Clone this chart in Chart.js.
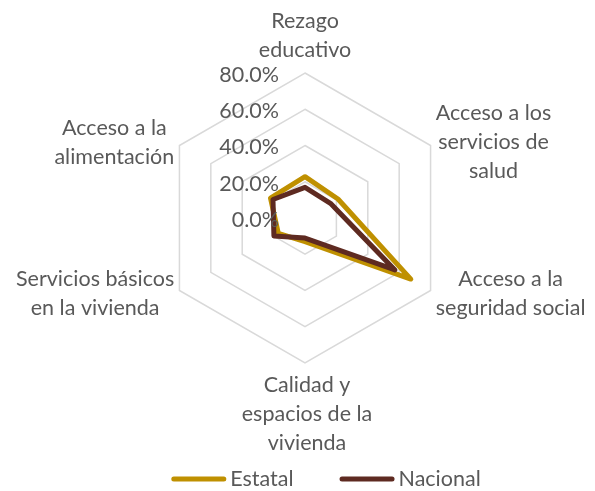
<!DOCTYPE html>
<html>
<head>
<meta charset="utf-8">
<script src="https://cdn.jsdelivr.net/npm/chart.js@4"></script>
<style>
  html, body { margin: 0; padding: 0; background: #ffffff; }
  #c { display: block; }
</style>
</head>
<body>
<canvas id="c" width="595" height="491"></canvas>
<script>
// ---- Data ----
const categories = [
  ["Rezago", "educativo"],
  ["Acceso a los", "servicios de", "salud"],
  ["Acceso a la", "seguridad social"],
  ["Calidad y", "espacios de la", "vivienda"],
  ["Servicios básicos", "en la vivienda"],
  ["Acceso a la", "alimentación"]
];
const seriesNames = ["Estatal", "Nacional"];
const estatalValues = [22.8, 21.0, 67.4, 13.0, 17.0, 22.0];
const nacionalValues = [16.9, 16.2, 57.3, 11.1, 19.8, 20.4];
const tickValues = [0, 20, 40, 60, 80];

// ---- Styles ----
const FONT = 'Lato, "Open Sans", sans-serif';
const FONT_SIZE = 21.5;
const LINE_H = 29;
const TEXT_COLOR = '#595959';
const COLORS = ['#BF9000', '#5E2A21'];

const labelsPlugin = {
  id: 'customText',
  afterDraw(chart) {
    const ctx = chart.ctx;
    const scale = chart.scales.r;
    ctx.save();
    ctx.font = FONT_SIZE + 'px ' + FONT;
    ctx.fillStyle = TEXT_COLOR;
    ctx.textBaseline = 'middle';

    // tick labels
    ctx.textAlign = 'right';
    scale.ticks.forEach(t => {
      const d = scale.getDistanceFromCenterForValue(t.value);
      ctx.fillText(t.value.toFixed(1) + '%', scale.xCenter - 26, scale.yCenter - d + 2);
    });

    // point labels
    ctx.textAlign = 'center';
    chart.data.labels.forEach((lines, i) => {
      const p = scale.getPointPosition(i, scale.drawingArea + 6);
      const w = Math.max(...lines.map(l => ctx.measureText(l).width));
      const dx = p.x - scale.xCenter;
      const dy = p.y - scale.yCenter;
      const blockH = (lines.length - 1) * LINE_H;
      let cx, y0;
      if (Math.abs(dx) < 1) {
        cx = p.x + (dy > 0 ? 2 : 0);
        y0 = dy < 0 ? p.y - 17 - blockH : p.y + 16;
      } else {
        cx = dx > 0 ? p.x + w / 2 : p.x - w / 2;
        y0 = p.y - blockH / 2;
      }
      lines.forEach((l, k) => ctx.fillText(l, cx, y0 + k * LINE_H));
    });

    // legend
    const lineLen = 55, gapAfterLine = 4, itemGap = 46, ly = 479;
    const items = chart.data.datasets.map(ds => ({
      text: ds.label, color: ds.borderColor, w: ctx.measureText(ds.label).width
    }));
    const total = items.reduce((s, it) => s + lineLen + gapAfterLine + it.w, 0) + itemGap * (items.length - 1);
    let x = 326 - total / 2;
    ctx.textAlign = 'left';
    items.forEach(it => {
      ctx.beginPath();
      ctx.strokeStyle = it.color;
      ctx.lineWidth = 5;
      ctx.lineCap = 'round';
      ctx.moveTo(x + 2.5, ly);
      ctx.lineTo(x + lineLen - 2.5, ly);
      ctx.stroke();
      x += lineLen + gapAfterLine;
      ctx.fillStyle = TEXT_COLOR;
      ctx.fillText(it.text, x, ly);
      x += it.w + itemGap;
    });
    ctx.restore();
  }
};

new Chart(document.getElementById('c'), {
  type: 'radar',
  data: {
    labels: categories,
    datasets: [
      {
        label: seriesNames[0],
        data: estatalValues,
        borderColor: COLORS[0],
        backgroundColor: 'rgba(0,0,0,0)',
        borderWidth: 5,
        borderJoinStyle: 'round',
        fill: false,
        pointRadius: 0,
        order: 2
      },
      {
        label: seriesNames[1],
        data: nacionalValues,
        borderColor: COLORS[1],
        backgroundColor: 'rgba(0,0,0,0)',
        borderWidth: 5,
        borderJoinStyle: 'round',
        fill: false,
        pointRadius: 0,
        order: 1
      }
    ]
  },
  options: {
    responsive: false,
    animation: false,
    layout: { padding: { left: 160, right: 144, top: 73, bottom: 128 } },
    plugins: {
      legend: { display: false },
      tooltip: { enabled: false }
    },
    scales: {
      r: {
        min: tickValues[0],
        max: tickValues[tickValues.length - 1],
        ticks: { display: false, stepSize: 20 },
        grid: { color: '#D9D9D9', lineWidth: 1.5 },
        angleLines: { display: false },
        pointLabels: { display: false }
      }
    }
  },
  plugins: [labelsPlugin]
});
</script>
</body>
</html>
